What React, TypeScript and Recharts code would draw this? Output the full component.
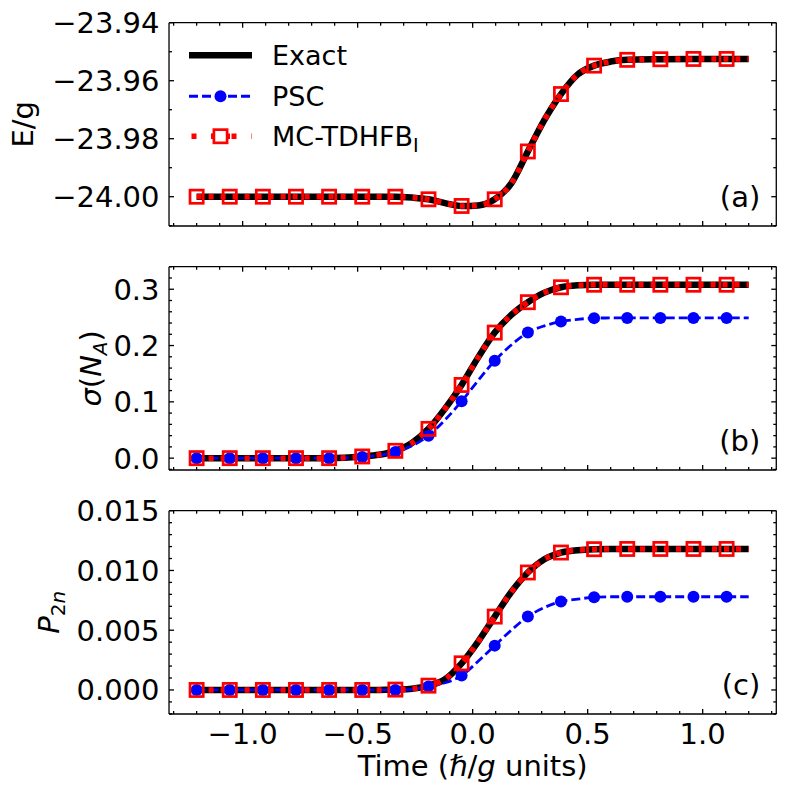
import { LineChart, Line, XAxis, YAxis, Legend } from "recharts";

const font = "DejaVu Sans";

// time grid (hbar/g units); markers sit on every 0.144 step
const times = [
  -1.2, -1.056, -0.912, -0.768, -0.624, -0.48, -0.408, -0.336, -0.264, -0.192,
  -0.12, -0.048, 0.024, 0.096, 0.168, 0.24, 0.312, 0.384, 0.456, 0.528, 0.6,
  0.672, 0.816, 0.96, 1.104, 1.2,
];
const markerTimes = [
  -1.2, -1.056, -0.912, -0.768, -0.624, -0.48, -0.336, -0.192, -0.048, 0.096,
  0.24, 0.384, 0.528, 0.672, 0.816, 0.96, 1.104,
];

// (a) E/g
const energyExact = [
  -24.0, -24.0, -24.0, -24.0, -24.0, -24.0, -24.0, -24.0, -24.0003, -24.0009,
  -24.0022, -24.0032, -24.003, -24.0009, -23.9954, -23.9844, -23.9735, -23.9646,
  -23.9579, -23.9548, -23.9534, -23.9528, -23.9526, -23.9525, -23.9525, -23.9525,
];
const energyMc = [
  -24.0, -24.0, -24.0, -24.0, -24.0, -24.0, -24.0, -24.0, -24.0003, -24.0009,
  -24.0022, -24.0032, -24.003, -24.0009, -23.9954, -23.9844, -23.9735, -23.9646,
  -23.9579, -23.9548, -23.9534, -23.9528, -23.9526, -23.9525, -23.9525, -23.9525,
];

// (b) sigma(N_A)
const sigmaExact = [
  0, 0, 0, 0, 0, 0.003, 0.006, 0.013, 0.027, 0.052, 0.088, 0.13, 0.179, 0.223,
  0.2545, 0.277, 0.294, 0.3035, 0.307, 0.308, 0.308, 0.308, 0.308, 0.308, 0.308, 0.308,
];
const sigmaPsc = [
  0, 0, 0, 0, 0, 0.002, 0.005, 0.011, 0.022, 0.04, 0.068, 0.101, 0.138, 0.173,
  0.201, 0.223, 0.235, 0.2427, 0.2465, 0.2487, 0.249, 0.249, 0.249, 0.249, 0.249, 0.249,
];
const sigmaMc = [
  0, 0, 0, 0, 0, 0.003, 0.006, 0.013, 0.027, 0.052, 0.088, 0.13, 0.179, 0.223,
  0.2545, 0.277, 0.294, 0.3035, 0.307, 0.308, 0.308, 0.308, 0.308, 0.308, 0.308, 0.308,
];

// (c) P_2n
const p2nExact = [
  0, 0, 0, 0, 0, 0, 0, 0.00003, 0.0001, 0.00036, 0.0009, 0.00223, 0.00405, 0.00614,
  0.0082, 0.00983, 0.01094, 0.0115, 0.0117, 0.01178, 0.0118, 0.0118, 0.0118, 0.0118, 0.0118, 0.0118,
];
const p2nPsc = [
  0, 0, 0, 0, 0, 0, 0, 0, 0.00005, 0.0003, 0.0006, 0.0012, 0.0024, 0.00371,
  0.005, 0.00614, 0.0069, 0.0074, 0.0076, 0.00776, 0.0078, 0.0078, 0.0078, 0.0078, 0.0078, 0.0078,
];
const p2nMc = [
  0, 0, 0, 0, 0, 0, 0, 0.00003, 0.0001, 0.00036, 0.0009, 0.00223, 0.00405, 0.00614,
  0.0082, 0.00983, 0.01094, 0.0115, 0.0117, 0.01178, 0.0118, 0.0118, 0.0118, 0.0118, 0.0118, 0.0118,
];

// axes
const xDomain = [-1.32, 1.32];
const xMajor = [-1, -0.5, 0, 0.5, 1];
const xMinor = [
  -1.3, -1.2, -1.1, -0.9, -0.8, -0.7, -0.6, -0.4, -0.3, -0.2, -0.1,
  0.1, 0.2, 0.3, 0.4, 0.6, 0.7, 0.8, 0.9, 1.1, 1.2, 1.3,
];
const energyDomain = [-24.0101, -23.94];
const energyMajor = [-24.0, -23.98, -23.96, -23.94];
const energyMinor = [-24.01, -23.99, -23.97, -23.95];
const sigmaDomain = [-0.021, 0.34];
const sigmaMajor = [0, 0.1, 0.2, 0.3];
const sigmaMinor = [
  -0.02, 0.02, 0.04, 0.06, 0.08, 0.12, 0.14, 0.16, 0.18, 0.22, 0.24, 0.26, 0.28, 0.32, 0.34,
];
const p2nDomain = [-0.00201, 0.015];
const p2nMajor = [0, 0.005, 0.01, 0.015];
const p2nMinor = [
  -0.002, -0.001, 0.001, 0.002, 0.003, 0.004, 0.006, 0.007, 0.008, 0.009,
  0.011, 0.012, 0.013, 0.014,
];

const legendItems = [
  { name: "Exact", sub: "", kind: "exact" },
  { name: "PSC", sub: "", kind: "psc" },
  { name: "MC-TDHFB", sub: "I", kind: "mc" },
];

const rowsA = times.map((t, i) => ({ t, exact: energyExact[i], mc: energyMc[i] }));
const rowsB = times.map((t, i) => ({ t, exact: sigmaExact[i], psc: sigmaPsc[i], mc: sigmaMc[i] }));
const rowsC = times.map((t, i) => ({ t, exact: p2nExact[i], psc: p2nPsc[i], mc: p2nMc[i] }));

const BLUE = "#0000ff";
const RED = "#ff0000";
const spine = { stroke: "#000", strokeWidth: 1.3 };

const signed = (digits: number) => (v: number) =>
  (v < -1e-12 ? "\u2212" : "") + Math.abs(v).toFixed(digits);

// inward tick mark (+ optional label) drawn at the axis position
const makeTick =
  (side: string, len: number, fmt?: (v: number) => string) => (props: any) => {
    const { x, y, payload, index } = props;
    let line = { x1: x, y1: y, x2: x, y2: y };
    if (side === "bottom") line = { x1: x, y1: y, x2: x, y2: y - len };
    if (side === "top") line = { x1: x, y1: y, x2: x, y2: y + len };
    if (side === "left") line = { x1: x, y1: y, x2: x + len, y2: y };
    if (side === "right") line = { x1: x, y1: y, x2: x - len, y2: y };
    return (
      <g key={`${side}${len}-${index}`}>
        <line {...line} stroke="#000" strokeWidth={1.3} />
        {fmt && side === "bottom" ? (
          <text x={x} y={y + 9.3} dy="0.72em" textAnchor="middle" fontSize={29} fontFamily={font} fill="#000">
            {fmt(payload.value)}
          </text>
        ) : null}
        {fmt && side === "left" ? (
          <text x={x - 9.5} y={y} dy="0.36em" textAnchor="end" fontSize={29} fontFamily={font} fill="#000">
            {fmt(payload.value)}
          </text>
        ) : null}
      </g>
    );
  };

const isMarker = (t: number) => markerTimes.some((m) => Math.abs(m - t) < 1e-9);

const pscDot = (p: any) =>
  isMarker(p.payload.t) ? (
    <circle key={`ps${p.index}`} cx={p.cx} cy={p.cy} r={6} fill={BLUE} />
  ) : (
    <g key={`ps${p.index}`} />
  );

const mcDot = (p: any) =>
  isMarker(p.payload.t) ? (
    <rect
      key={`mc${p.index}`}
      x={p.cx - 6.6}
      y={p.cy - 6.6}
      width={13.2}
      height={13.2}
      fill="none"
      stroke={RED}
      strokeWidth={2.7}
    />
  ) : (
    <g key={`mc${p.index}`} />
  );

const yTitle = (dx: number, body: any) => (props: any) => {
  const vb = props.viewBox || {};
  const cx = vb.x + vb.width + dx;
  const cy = vb.y + vb.height / 2;
  return (
    <text
      x={cx}
      y={cy}
      transform={`rotate(-90 ${cx} ${cy})`}
      textAnchor="middle"
      fontSize={29}
      fontFamily={font}
      fill="#000"
    >
      {body}
    </text>
  );
};

const tagLabel = (tag: string) => (props: any) => {
  const vb = props.viewBox || {};
  return (
    <text
      x={vb.x - 16}
      y={vb.y + vb.height - 19}
      textAnchor="end"
      fontSize={29}
      fontFamily={font}
      fill="#000"
    >
      {tag}
    </text>
  );
};

const xTitle = (props: any) => {
  const vb = props.viewBox || {};
  return (
    <text
      x={vb.x + vb.width / 2}
      y={vb.y + 62.5}
      textAnchor="middle"
      fontSize={29}
      fontFamily={font}
      fill="#000"
    >
      {"Time ("}
      <tspan fontStyle="italic">ℏ</tspan>
      {"/"}
      <tspan fontStyle="italic">g</tspan>
      {" units)"}
    </text>
  );
};

function LegendHandle({ kind }: { kind: string }) {
  const w = 63;
  const h = 40.5;
  const m = h / 2;
  if (kind === "exact") {
    return (
      <svg width={w} height={h}>
        <line x1={0} x2={w} y1={m} y2={m} stroke="#000" strokeWidth={6.5} />
      </svg>
    );
  }
  if (kind === "psc") {
    return (
      <svg width={w} height={h}>
        <line x1={0} x2={w} y1={m} y2={m} stroke={BLUE} strokeWidth={2.8} strokeDasharray="9 4" />
        <circle cx={w / 2} cy={m} r={6} fill={BLUE} />
      </svg>
    );
  }
  return (
    <svg width={w} height={h}>
      <line x1={2.5} x2={w} y1={m} y2={m} stroke={RED} strokeWidth={5.5} strokeDasharray="5 15" />
      <line x1={22} x2={41} y1={m} y2={m} stroke={RED} strokeWidth={5.5} />
      <rect x={w / 2 - 6.6} y={m - 6.6} width={13.2} height={13.2} fill="#fff" stroke={RED} strokeWidth={2.7} />
    </svg>
  );
}

function LegendBox() {
  return (
    <div style={{ fontFamily: font, fontSize: 27, color: "#000" }}>
      {legendItems.map((it) => (
        <div key={it.name} style={{ display: "flex", alignItems: "center", height: 40.5 }}>
          <LegendHandle kind={it.kind} />
          <span style={{ marginLeft: 20, whiteSpace: "nowrap", lineHeight: 1 }}>
            {it.name}
            {it.sub ? (
              <span style={{ fontSize: 19, position: "relative", top: 6 }}>{it.sub}</span>
            ) : null}
          </span>
        </div>
      ))}
    </div>
  );
}

type PanelProps = {
  rows: any[];
  height: number;
  top: number;
  bottom: number;
  yDomain: number[];
  yMajor: number[];
  yMinor: number[];
  yDigits: number;
  yLabel: any;
  tag: string;
  psc: boolean;
  xLabels: boolean;
  legend: boolean;
};

function Panel(p: PanelProps) {
  const axisX = {
    dataKey: "t",
    type: "number" as const,
    domain: xDomain,
    allowDataOverflow: true,
    interval: 0 as const,
    height: 0.01,
    tickSize: 0,
    tickMargin: 0,
    tickLine: false,
  };
  const axisY = {
    type: "number" as const,
    domain: p.yDomain,
    allowDataOverflow: true,
    interval: 0 as const,
    width: 0.01,
    tickSize: 0,
    tickMargin: 0,
    tickLine: false,
  };
  return (
    <LineChart
      width={789}
      height={p.height}
      data={p.rows}
      margin={{ top: p.top, bottom: p.bottom, left: 169, right: 12.7 }}
    >
      <XAxis
        {...axisX}
        xAxisId="b"
        ticks={xMajor}
        axisLine={spine}
        tick={makeTick("bottom", 5, p.xLabels ? signed(1) : undefined)}
        label={p.xLabels ? xTitle : undefined}
      />
      <XAxis {...axisX} xAxisId="bm" ticks={xMinor} axisLine={false} tick={makeTick("bottom", 3)} />
      <XAxis {...axisX} xAxisId="t" orientation="top" ticks={xMajor} axisLine={spine} tick={makeTick("top", 5)} />
      <XAxis {...axisX} xAxisId="tm" orientation="top" ticks={xMinor} axisLine={false} tick={makeTick("top", 3)} />
      <YAxis
        {...axisY}
        yAxisId="l"
        ticks={p.yMajor}
        axisLine={spine}
        tick={makeTick("left", 5, signed(p.yDigits))}
        label={p.yLabel}
      />
      <YAxis {...axisY} yAxisId="lm" ticks={p.yMinor} axisLine={false} tick={makeTick("left", 3)} />
      <YAxis
        {...axisY}
        yAxisId="r"
        orientation="right"
        ticks={p.yMajor}
        axisLine={spine}
        tick={makeTick("right", 5)}
        label={tagLabel(p.tag)}
      />
      <YAxis {...axisY} yAxisId="rm" orientation="right" ticks={p.yMinor} axisLine={false} tick={makeTick("right", 3)} />

      <Line
        xAxisId="b"
        yAxisId="l"
        type="monotone"
        dataKey="exact"
        stroke="#000"
        strokeWidth={6.5}
        dot={false}
        isAnimationActive={false}
      />
      {p.psc ? (
        <Line
          xAxisId="b"
          yAxisId="l"
          type="monotone"
          dataKey="psc"
          stroke={BLUE}
          strokeWidth={2.8}
          strokeDasharray="9 4"
          dot={pscDot}
          isAnimationActive={false}
        />
      ) : null}
      <Line
        xAxisId="b"
        yAxisId="l"
        type="monotone"
        dataKey="mc"
        stroke={RED}
        strokeWidth={5.5}
        strokeDasharray="5 7"
        dot={mcDot}
        isAnimationActive={false}
      />
      {p.legend ? (
        <Legend
          layout="vertical"
          align="center"
          verticalAlign="middle"
          wrapperStyle={{ top: 35.45, left: 189, width: "auto" }}
          content={() => <LegendBox />}
        />
      ) : null}
    </LineChart>
  );
}

export default function App() {
  return (
    <div style={{ position: "absolute", left: 0, top: 0, width: 789, height: 800, background: "#fff" }}>
      <Panel
        rows={rowsA}
        height={246}
        top={22.7}
        bottom={20}
        yDomain={energyDomain}
        yMajor={energyMajor}
        yMinor={energyMinor}
        yDigits={2}
        yLabel={yTitle(-136, "E/g")}
        tag="(a)"
        psc={false}
        xLabels={false}
        legend={true}
      />
      <Panel
        rows={rowsB}
        height={244}
        top={20.7}
        bottom={20}
        yDomain={sigmaDomain}
        yMajor={sigmaMajor}
        yMinor={sigmaMinor}
        yDigits={1}
        yLabel={yTitle(
          -68,
          <>
            <tspan fontStyle="italic">σ</tspan>
            {"("}
            <tspan fontStyle="italic">N</tspan>
            <tspan fontStyle="italic" fontSize={20} dy={6}>A</tspan>
            <tspan dy={-6}>{")"}</tspan>
          </>
        )}
        tag="(b)"
        psc={true}
        xLabels={false}
        legend={false}
      />
      <Panel
        rows={rowsC}
        height={310}
        top={20.7}
        bottom={86}
        yDomain={p2nDomain}
        yMajor={p2nMajor}
        yMinor={p2nMinor}
        yDigits={3}
        yLabel={yTitle(
          -110,
          <>
            <tspan fontStyle="italic">P</tspan>
            <tspan fontSize={20} dy={6}>2</tspan>
            <tspan fontStyle="italic" fontSize={20}>n</tspan>
          </>
        )}
        tag="(c)"
        psc={true}
        xLabels={true}
        legend={false}
      />
    </div>
  );
}
